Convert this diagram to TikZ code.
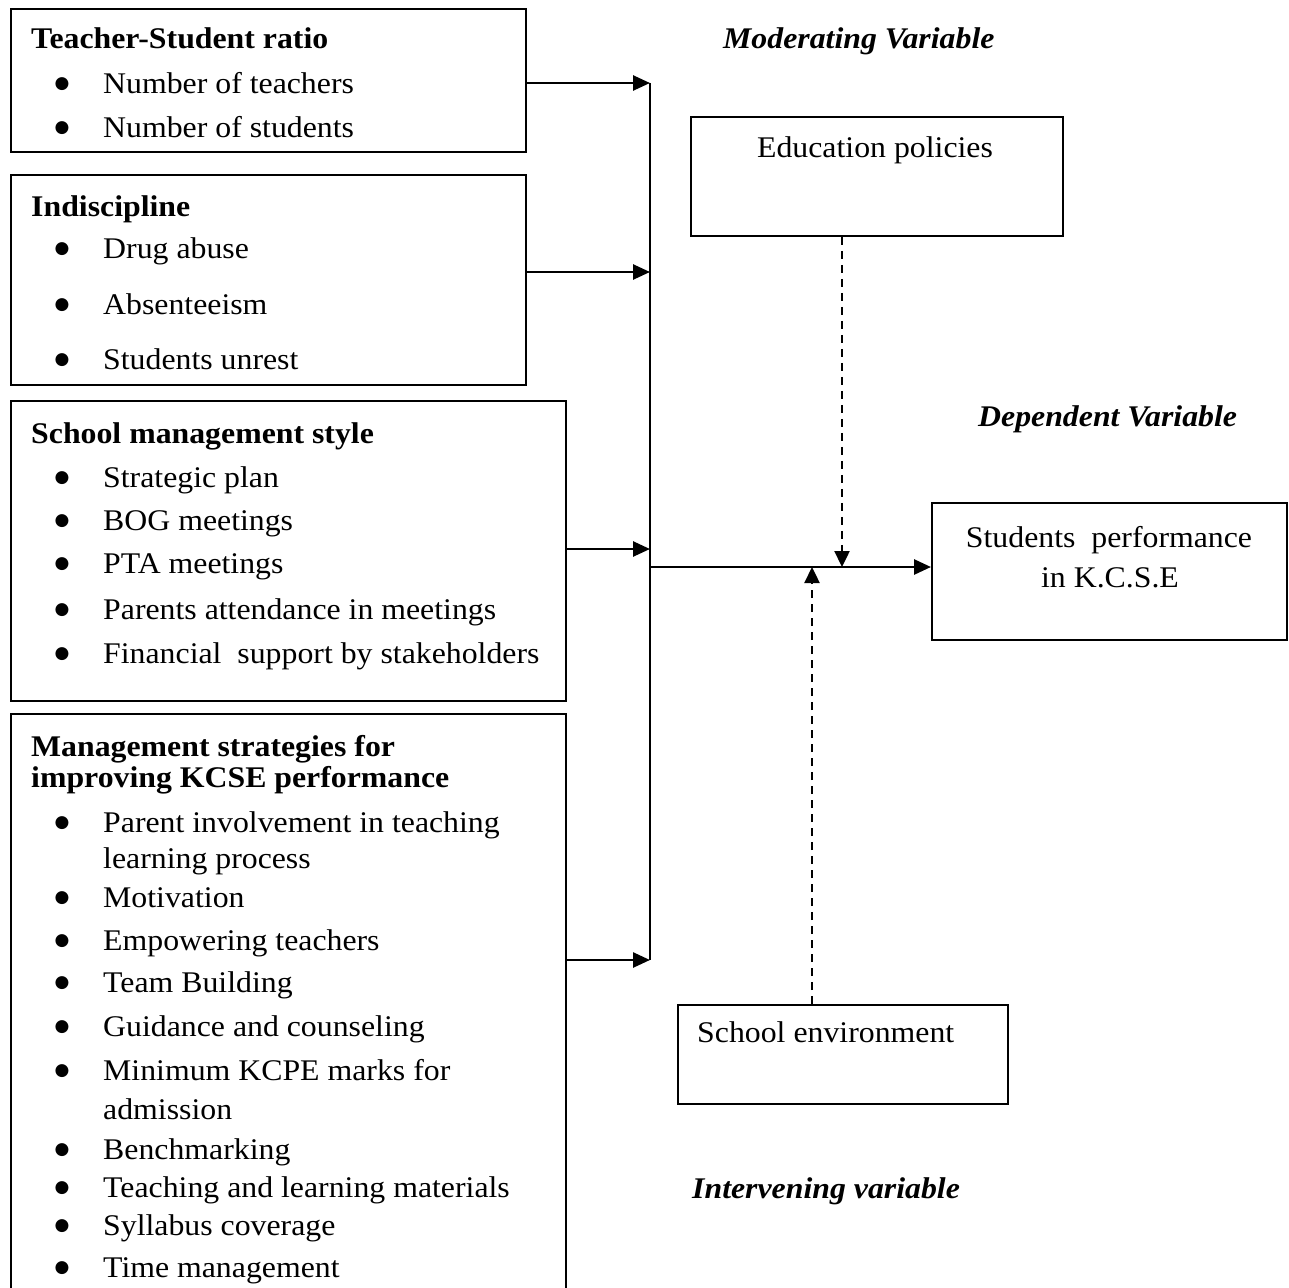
\documentclass[tikz,border=0pt]{standalone}
\usepackage{fontspec}
\setmainfont{Liberation Serif}[FakeStretch=1.06]
\newfontfamily\bulfont{DejaVu Sans}
\usetikzlibrary{arrows.meta}
\begin{document}
\begin{tikzpicture}[x=1pt,y=-1pt,
  box/.style={draw, line width=1.8pt, inner sep=0pt, anchor=north west},
  txt/.style={font=\fontsize{30}{36}\selectfont, inner sep=0pt, text height=21pt, text depth=3.5pt},
  ttl/.style={txt, font=\fontsize{30}{36}\selectfont\bfseries, anchor=west},
  itm/.style={txt, anchor=west},
  bul/.style={font=\bulfont\fontsize{17}{17}\selectfont, inner sep=0pt, anchor=center},
  hdr/.style={txt, font=\fontsize{30}{36}\selectfont\bfseries\itshape, anchor=west},
  arr/.style={line width=2.6pt, -{Triangle[length=17pt,width=15pt]}},
  darr/.style={line width=2.4pt, dash pattern=on 8pt off 6pt, -{Triangle[length=16pt,width=15pt]}},
  conn/.style={line width=1.8pt}
]
\useasboundingbox[fill=white] (0,0) rectangle (1289,1287);

% ---- Box 1: Teacher-Student ratio
\node[box, minimum width=515pt, minimum height=143pt] (tsr) at (10,8) {};
\node[ttl] (tsrT) at (31,40) {Teacher-Student ratio};
\foreach \yy/\lab [count=\i] in {85/Number of teachers,129/Number of students}{
  \node[bul] (tsrB\i) at (62,\yy-1) {●};
  \node[itm] (tsrI\i) at (103,\yy) {\lab};
}

% ---- Box 2: Indiscipline
\node[box, minimum width=515pt, minimum height=210pt] (ind) at (10,174) {};
\node[ttl] (indT) at (31,208) {Indiscipline};
\foreach \yy/\lab [count=\i] in {250/Drug abuse,306/Absenteeism,361/Students unrest}{
  \node[bul] (indB\i) at (62,\yy-1) {●};
  \node[itm] (indI\i) at (103,\yy) {\lab};
}

% ---- Box 3: School management style
\node[box, minimum width=555pt, minimum height=300pt] (sms) at (10,400) {};
\node[ttl] (smsT) at (31,435) {School management style};
\foreach \yy/\lab [count=\i] in {479/Strategic plan,522/BOG meetings,565/PTA meetings,611/Parents attendance in meetings,655/Financial~ support by stakeholders}{
  \node[bul] (smsB\i) at (62,\yy-1) {●};
  \node[itm] (smsI\i) at (103,\yy) {\lab};
}

% ---- Box 4: Management strategies
\node[box, minimum width=555pt, minimum height=600pt] (mgs) at (10,713) {};
\node[ttl] (mgsT1) at (31,748) {Management strategies for};
\node[ttl] (mgsT2) at (31,779) {improving KCSE performance};
\foreach \yy [count=\i] in {824,899,942,984,1028,1072,1151,1189,1227,1269}{
  \node[bul] (mgsB\i) at (62,\yy-1) {●};
}
\foreach \yy/\lab [count=\i] in {824/Parent involvement in teaching,860/learning process,899/Motivation,942/Empowering teachers,984/Team Building,1028/Guidance and counseling,1072/Minimum KCPE marks for,1111/admission,1151/Benchmarking,1189/Teaching and learning materials,1227/Syllabus coverage,1269/Time management}{
  \node[itm] (mgsI\i) at (103,\yy) {\lab};
}

% ---- Right side
\node[hdr] (modH) at (723,40) {Moderating Variable};
\node[box, minimum width=372pt, minimum height=119pt] (edu) at (690,116) {};
\node[txt] (eduT) at (875,149) {Education policies};

\node[hdr] (depH) at (978,418) {Dependent Variable};
\node[box, minimum width=355pt, minimum height=137pt] (perf) at (931,502) {};
\node[txt] (perfT1) at (1109,539) {Students~ performance};
\node[txt] (perfT2) at (1110,579) {in K.C.S.E};

\node[box, minimum width=330pt, minimum height=99pt] (env) at (677,1004) {};
\node[itm] (envT) at (697,1034) {School environment};
\node[hdr] (intH) at (692,1190) {Intervening variable};

% ---- Connectors
\coordinate (v1) at (650,83);
\coordinate (v2) at (650,272);
\coordinate (v3) at (650,549);
\coordinate (v4) at (650,960);
\coordinate (j) at (650,567);
\coordinate (m1) at (790,567);
\coordinate (dn) at (842,567);
\coordinate (up) at (812,567);

\draw[conn] (v1) -- (v4);
\draw[arr] (tsr.east |- v1) -- (v1);
\draw[arr] (ind.east |- v2) -- (v2);
\draw[arr] (sms.east |- v3) -- (v3);
\draw[arr] (mgs.east |- v4) -- (v4);
\draw[conn] (j) -- (m1);
\draw[arr, line width=2.8pt] (m1) -- (perf.west |- j);
\draw[darr] (edu.south -| dn) -- (dn);
\draw[darr] (env.north -| up) -- (up);
\end{tikzpicture}
\end{document}
